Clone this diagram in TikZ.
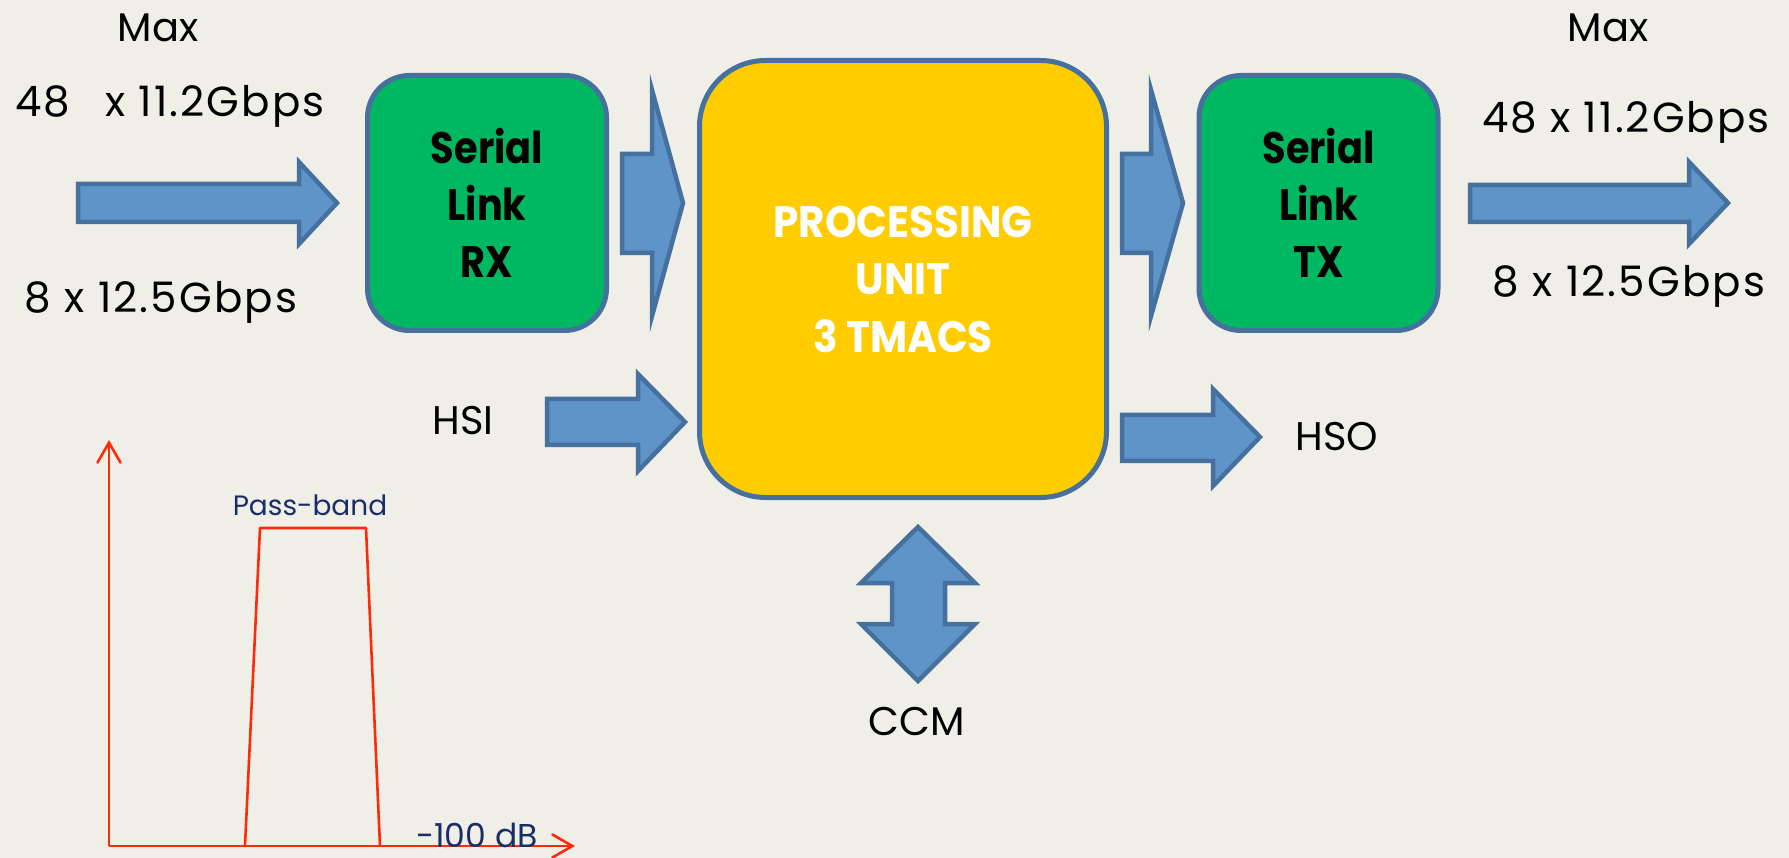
\documentclass[tikz,border=0pt]{standalone}
\usepackage{fontspec}
\setmainfont{Poppins}
\newfontfamily\linkfont{Poppins}[FakeStretch=0.87]
\newfontfamily\procfont{Poppins}[FakeStretch=0.92]
\newfontfamily\ratefont{Poppins}[LetterSpace=5]
\usetikzlibrary{arrows.meta}
\definecolor{bg}{HTML}{F0EFE7}
\definecolor{arrowfill}{HTML}{5F94C9}
\definecolor{arrowline}{HTML}{46719F}
\definecolor{boxgreen}{HTML}{00B862}
\definecolor{boxyellow}{HTML}{FFCC00}
\definecolor{chartred}{HTML}{FF2A0A}
\definecolor{navy}{HTML}{1A2E66}
\begin{document}
\begin{tikzpicture}[x=1pt,y=-1pt,
  blockarrow/.style={fill=arrowfill,draw=arrowline,line width=4.5pt,line join=miter},
  linkbox/.style={draw=arrowline,line width=5pt,fill=boxgreen,rounded corners=42pt,
    minimum width=239pt,minimum height=255pt,align=center,inner sep=0pt,
    font=\linkfont\fontsize{44}{57}\selectfont\bfseries},
  procbox/.style={draw=arrowline,line width=5pt,fill=boxyellow,rounded corners=66pt,
    minimum width=407pt,minimum height=437pt,align=center,inner sep=0pt,text=white,
    font=\procfont\fontsize{44}{57.5}\selectfont\bfseries},
  lbl/.style={font=\fontsize{40}{48}\selectfont,anchor=base,inner sep=0pt},
  ratelbl/.style={font=\ratefont\fontsize{42}{50}\selectfont,anchor=base,inner sep=0pt},
  chartlbl/.style={anchor=base,inner sep=0pt,text=navy},
  chartline/.style={draw=chartred,line width=2.6pt},
  axis/.style={chartline,-{Straight Barb[length=20pt,width=23pt,line cap=round]}}
]
\useasboundingbox (0,0) rectangle (1789,858);
\fill[bg] (0,0) rectangle (1789,858);

% main blocks
\node[linkbox] (rx) at (487,203) {Serial\\Link\\RX};
\node[procbox] (pu) at (903,279) {PROCESSING\\UNIT\\3 TMACS};
\node[linkbox] (tx) at (1318.5,203) {Serial\\Link\\TX};

% lane rate labels
\node[lbl] (maxin)  at (158,42)  {Max};
\node[ratelbl] (ratein) at (170,117) {48\ \ \hspace{8pt}x 11.2Gbps};
\node[ratelbl] (lanein) at (161,313) {8 x 12.5Gbps};
\node[lbl] (maxout)  at (1608,42)  {Max};
\node[ratelbl] (rateout) at (1626,133) {48 x 11.2Gbps};
\node[ratelbl] (laneout) at (1629,297) {8 x 12.5Gbps};
\node[lbl] (hsi) at (463,435) {HSI};
\node[lbl] (hso) at (1337,450) {HSO};
\node[lbl] (ccm) at (917,735) {CCM};

% block arrows
\draw[blockarrow] (78,184) -- (299,184) -- (299,162) -- (337,203) -- (299,244) -- (299,222) -- (78,222) -- cycle;
\draw[blockarrow] (622,154) -- (652,154) -- (652,90) -- (683,203) -- (652,316) -- (652,253) -- (622,253) -- cycle;
\draw[blockarrow] (1122,154) -- (1151,154) -- (1151,90) -- (1183,203) -- (1151,316) -- (1151,253) -- (1122,253) -- cycle;
\draw[blockarrow] (1470,185) -- (1689,185) -- (1689,162) -- (1728,203) -- (1689,244) -- (1689,222) -- (1470,222) -- cycle;
\draw[blockarrow] (547,399) -- (638,399) -- (638,374) -- (685,422) -- (638,471) -- (638,445) -- (547,445) -- cycle;
\draw[blockarrow] (1122,415) -- (1213,415) -- (1213,389) -- (1260,437) -- (1213,486) -- (1213,461) -- (1122,461) -- cycle;
\draw[blockarrow] (918,527) -- (975,583) -- (945,583) -- (945,624) -- (975,624) -- (918,681)
  -- (861,624) -- (892,624) -- (892,583) -- (861,583) -- cycle;

% filter response sketch
\coordinate (org) at (109,846);
\coordinate (ytip) at (109,440);
\coordinate (xtip) at (575,846);
\draw[axis] (org) -- (ytip);
\draw[axis] (org) -- (xtip);
\draw[chartline,line join=round] (245,846) -- (260,528) -- (366,528) -- (380,846);
\node[chartlbl,font=\fontsize{28}{34}\selectfont] (pb) at (310,515) {Pass-band};
\node[chartlbl,font=\fontsize{33}{40}\selectfont] (db) at (477,847) {-100 dB};
\end{tikzpicture}
\end{document}
